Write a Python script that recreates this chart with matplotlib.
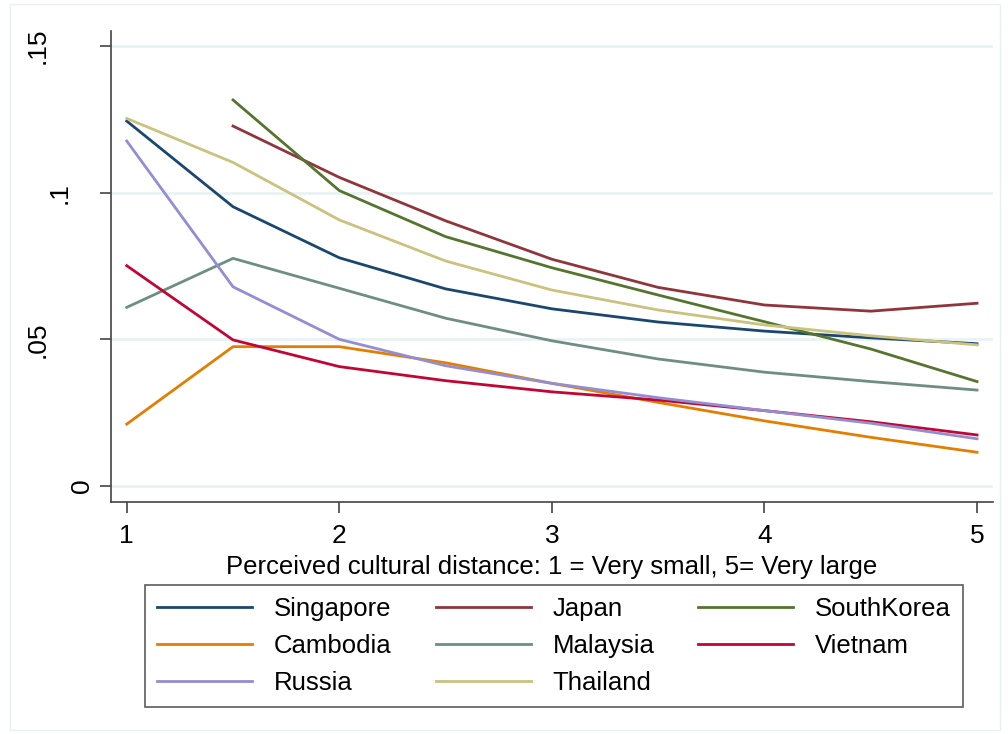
import matplotlib
matplotlib.use("Agg")
from matplotlib import pyplot as plt
from matplotlib.patches import Rectangle
from matplotlib.transforms import blended_transform_factory
import numpy as np

plt.rcParams['font.family'] = ['Liberation Sans', 'DejaVu Sans']

x_full = [1, 1.5, 2, 2.5, 3, 3.5, 4, 4.5, 5]
x_late = [1.5, 2, 2.5, 3, 3.5, 4, 4.5, 5]

singapore = [0.1244, 0.0952, 0.0778, 0.0672, 0.0604, 0.0559, 0.0528, 0.0505, 0.0485]
japan = [0.1227, 0.1052, 0.0904, 0.0773, 0.0677, 0.0617, 0.0596, 0.0623]
southkorea = [0.1316, 0.1007, 0.0850, 0.0744, 0.0651, 0.0560, 0.0467, 0.0356]
cambodia = [0.0211, 0.0475, 0.0475, 0.0420, 0.0350, 0.0285, 0.0222, 0.0166, 0.0115]
malaysia = [0.0609, 0.0776, 0.0674, 0.0572, 0.0495, 0.0433, 0.0388, 0.0356, 0.0327]
vietnam = [0.0751, 0.0498, 0.0407, 0.0359, 0.0321, 0.0293, 0.0257, 0.0219, 0.0174]
russia = [0.1176, 0.0679, 0.0500, 0.0410, 0.0350, 0.0301, 0.0257, 0.0214, 0.0161]
thailand = [0.1253, 0.1103, 0.0907, 0.0767, 0.0668, 0.0600, 0.0549, 0.0512, 0.0481]

yticks = [0, 0.05, 0.1, 0.15]
ytick_labels = ["0", ".05", ".1", ".15"]
xticks = [1, 2, 3, 4, 5]

fig = plt.figure(figsize=(10.08, 7.34), dpi=100)
fig.patches.append(Rectangle((10/1008, 4/734), 990/1008, 726/734, transform=fig.transFigure,
                             fill=False, edgecolor="#eaf0f0", lw=1))
ax = fig.add_axes([111/1008, 1 - 502/734, 882/1008, 471/734])

lw = 2.0
series = [
    ("Singapore", x_full, singapore, "#1a476f"),
    ("Japan", x_late, japan, "#90353b"),
    ("SouthKorea", x_late, southkorea, "#55752f"),
    ("Cambodia", x_full, cambodia, "#e37e00"),
    ("Malaysia", x_full, malaysia, "#6e8e84"),
    ("Vietnam", x_full, vietnam, "#c10534"),
    ("Russia", x_full, russia, "#938dd2"),
    ("Thailand", x_full, thailand, "#cac27e"),
]
handles = {}
for name, xs, ys, c in series:
    handles[name], = ax.plot(xs, ys, color=c, lw=lw, label=name)

ax.set_xlim(0.926, 5.075)
ax.set_ylim(-0.00545, 0.1551)
ax.set_yticks(yticks)
ax.set_yticklabels([])
ax.set_xticks(xticks)
ax.set_xticklabels([str(v) for v in xticks], fontsize=19)
ax.grid(axis="y", color="#eaf2f3", lw=2)
ax.set_axisbelow(True)
for s in ["top", "right"]:
    ax.spines[s].set_visible(False)
for s in ["left", "bottom"]:
    ax.spines[s].set_color("#444444")
    ax.spines[s].set_linewidth(1.2)
ax.tick_params(axis="both", length=8, width=1.2, color="#444444")
ax.tick_params(axis="x", pad=8)

# rotated y labels placed like the original
trans = blended_transform_factory(ax.transAxes, ax.transData)
label_x = {"0": -0.0334, ".05": -0.0828, ".1": -0.0578, ".15": -0.0828}
for v, lab in zip(yticks, ytick_labels):
    ax.text(label_x[lab], v, lab, rotation=90, ha="center", va="center",
            fontsize=19, transform=trans)

ax.set_xlabel("Perceived cultural distance: 1 = Very small, 5= Very large", fontsize=18.5, labelpad=5)

order = ["Singapore", "Cambodia", "Russia", "Japan", "Malaysia", "Thailand", "SouthKorea", "Vietnam"]
leg = fig.legend([handles[n] for n in order], order, ncol=3, fontsize=18.5,
                 loc="upper left", bbox_to_anchor=(145/1008, 1 - 585/734),
                 frameon=True, fancybox=False, edgecolor="#333333",
                 handlelength=3.7, handletextpad=0.85, columnspacing=1.7,
                 labelspacing=0.5, borderpad=0.48, borderaxespad=0)
leg.get_frame().set_linewidth(1.2)

fig.savefig("out.png", dpi=100, facecolor="white")
